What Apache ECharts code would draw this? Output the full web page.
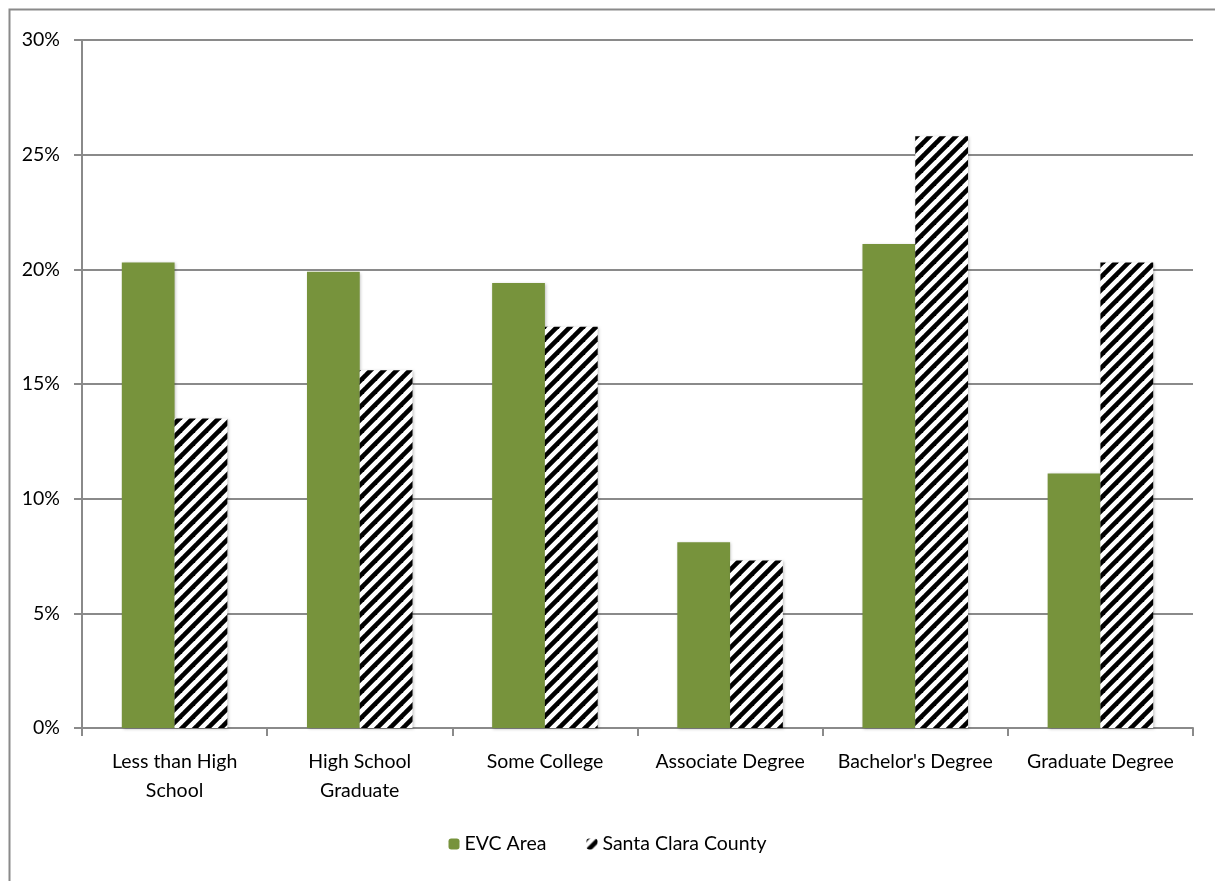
<!DOCTYPE html>
<html>
<head>
<meta charset="utf-8">
<style>
  html, body { margin: 0; padding: 0; background: #ffffff; }
  #chart { width: 1215px; height: 881px; }
</style>
<script src="https://cdn.jsdelivr.net/npm/echarts@6/dist/echarts.min.js"></script>
</head>
<body>
<div id="chart"></div>
<script>
// Educational attainment shares (percent of adults 25+)
const categories = [
  'Less than High\nSchool',
  'High School\nGraduate',
  'Some College',
  'Associate Degree',
  "Bachelor's Degree",
  'Graduate Degree'
];
const evcArea = [20.3, 19.9, 19.4, 8.1, 21.1, 11.1];
const santaClaraCounty = [13.5, 15.6, 17.5, 7.3, 25.8, 20.3];
const seriesNames = ['EVC Area', 'Santa Clara County'];
const yTicks = [0, 5, 10, 15, 20, 25, 30];

// Diagonal black/white hatch used for the county bars
function makeHatch() {
  const s = 13;
  const c = document.createElement('canvas');
  c.width = s; c.height = s;
  const g = c.getContext('2d');
  g.fillStyle = '#ffffff';
  g.fillRect(0, 0, s, s);
  g.strokeStyle = '#000000';
  g.lineWidth = 4.6;
  g.lineCap = 'square';
  for (const k of [-1, 0, 1]) {
    g.beginPath();
    g.moveTo(-2 + k * s, s + 2);
    g.lineTo(s + 2 + k * s, -2);
    g.stroke();
  }
  return { image: c, repeat: 'repeat' };
}
const hatch = makeHatch();

const font = 'Lato, "Liberation Sans", sans-serif';
const fontSize = 19.5;
const chart = echarts.init(document.getElementById('chart'), null, { renderer: 'canvas' });

chart.setOption({
  backgroundColor: '#ffffff',
  animation: false,
  graphic: [{
    type: 'polyline',
    shape: { points: [[9.5, 900], [9.5, 9.5], [1240, 9.5]] },
    style: { stroke: '#8a8a8a', lineWidth: 2, fill: null },
    silent: true
  }],
  grid: { left: 82, right: 22, top: 40, bottom: 153, containLabel: false },
  legend: {
    data: seriesNames,
    bottom: 22,
    left: 'center',
    itemWidth: 11,
    itemHeight: 11,
    itemGap: 40,
    textStyle: { fontFamily: font, fontSize: fontSize, color: '#000000', padding: [0, 0, 0, 0] }
  },
  xAxis: {
    type: 'category',
    data: categories,
    axisLine: { lineStyle: { color: '#8a8a8a', width: 2 } },
    axisTick: { show: true, length: 8, lineStyle: { color: '#8a8a8a', width: 2 } },
    axisLabel: {
      fontFamily: font, fontSize: fontSize, color: '#000000',
      lineHeight: 29, margin: 19, interval: 0
    }
  },
  yAxis: {
    type: 'value',
    min: yTicks[0],
    max: yTicks[yTicks.length - 1],
    interval: 5,
    axisLine: { show: true, lineStyle: { color: '#8a8a8a', width: 2 } },
    axisTick: { show: true, length: 8, lineStyle: { color: '#8a8a8a', width: 2 } },
    splitLine: { lineStyle: { color: '#8a8a8a', width: 2 } },
    axisLabel: {
      fontFamily: font, fontSize: fontSize, color: '#000000', margin: 22,
      formatter: v => v + '%'
    }
  },
  series: [
    {
      name: seriesNames[0],
      type: 'bar',
      data: evcArea,
      barGap: '0%',
      barCategoryGap: '43%',
      itemStyle: {
        color: '#77933c',
        shadowColor: 'rgba(0,0,0,0.25)', shadowBlur: 3, shadowOffsetX: 1, shadowOffsetY: 1
      }
    },
    {
      name: seriesNames[1],
      type: 'bar',
      data: santaClaraCounty,
      itemStyle: {
        color: hatch,
        shadowColor: 'rgba(0,0,0,0.25)', shadowBlur: 3, shadowOffsetX: 1, shadowOffsetY: 1
      }
    }
  ]
});
</script>
</body>
</html>
